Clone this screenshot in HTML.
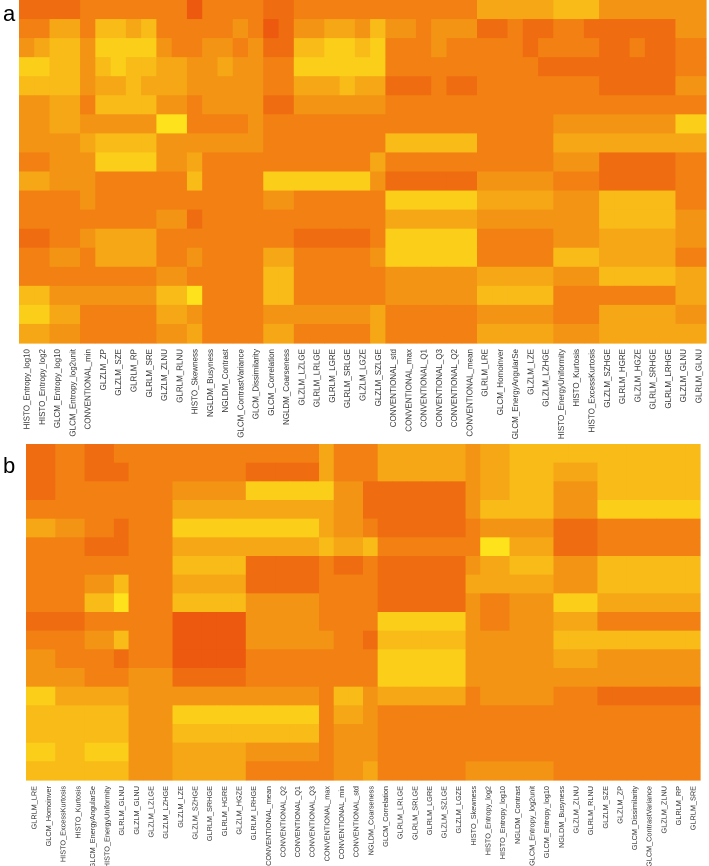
<!DOCTYPE html>
<html><head><meta charset="utf-8"><style>
html,body{margin:0;padding:0;background:#fff;width:709px;height:866px;overflow:hidden}
svg{display:block}
text{font-family:"Liberation Sans",Arial,sans-serif}
</style></head><body>
<svg id="fig" width="709" height="866" viewBox="0 0 709 866">
<text x="3" y="21" font-size="22" fill="#000">a</text>
<text x="3" y="473" font-size="22" fill="#000">b</text>
<g id="ga"></g>
<g id="gb"></g>
<g id="la"></g>
<g id="lb"></g>
</svg>
<script>
const labelsA = ["HISTO_Entropy_log10","HISTO_Entropy_log2","GLCM_Entropy_log10","GLCM_Entropy_log2unit","CONVENTIONAL_min","GLZLM_ZP","GLZLM_SZE","GLRLM_RP","GLRLM_SRE","GLZLM_ZLNU","GLRLM_RLNU","HISTO_Skewness","NGLDM_Busyness","NGLDM_Contrast","GLCM_ContrastVariance","GLCM_Dissimilarity","GLCM_Correlation","NGLDM_Coarseness","GLZLM_LZLGE","GLRLM_LRLGE","GLRLM_LGRE","GLRLM_SRLGE","GLZLM_LGZE","GLZLM_SZLGE","CONVENTIONAL_std","CONVENTIONAL_max","CONVENTIONAL_Q1","CONVENTIONAL_Q3","CONVENTIONAL_Q2","CONVENTIONAL_mean","GLRLM_LRE","GLCM_Homoinver","GLCM_EnergyAngularSe","GLZLM_LZE","GLZLM_LZHGE","HISTO_EnergyUniformity","HISTO_Kurtosis","HISTO_ExcessKurtosis","GLZLM_SZHGE","GLRLM_HGRE","GLZLM_HGZE","GLRLM_SRHGE","GLRLM_LRHGE","GLZLM_GLNU","GLRLM_GLNU"];
const labelsB = ["GLRLM_LRE","GLCM_Homoinver","HISTO_ExcessKurtosis","HISTO_Kurtosis","GLCM_EnergyAngularSe","HISTO_EnergyUniformity","GLRLM_GLNU","GLZLM_GLNU","GLZLM_LZLGE","GLZLM_LZHGE","GLZLM_LZE","GLZLM_SZHGE","GLRLM_SRHGE","GLRLM_HGRE","GLZLM_HGZE","GLRLM_LRHGE","CONVENTIONAL_mean","CONVENTIONAL_Q2","CONVENTIONAL_Q1","CONVENTIONAL_Q3","CONVENTIONAL_max","CONVENTIONAL_min","CONVENTIONAL_std","NGLDM_Coarseness","GLCM_Correlation","GLRLM_LRLGE","GLRLM_SRLGE","GLRLM_LGRE","GLZLM_SZLGE","GLZLM_LGZE","HISTO_Skewness","HISTO_Entropy_log2","HISTO_Entropy_log10","NGLDM_Contrast","GLCM_Entropy_log2unit","GLCM_Entropy_log10","NGLDM_Busyness","GLZLM_ZLNU","GLRLM_RLNU","GLZLM_SZE","GLZLM_ZP","GLCM_Dissimilarity","GLCM_ContrastVariance","GLZLM_ZLNU","GLRLM_RP","GLRLM_SRE"];
const valuesA = [
"22 22 3 3333 33 1 3333 22 33333 3 333333 55555 666 44444 44",
"33 55 3 6656 33 3 3343 12 44554 6 443444 22322 332 22222 44",
"45 66 4 7777 43 3 4434 22 66776 7 333433 33323 333 22322 33",
"77 66 4 6766 55 4 4544 33 77777 7 333333 33332 222 22222 33",
"66 66 4 5565 55 4 4444 33 55565 5 222322 33333 333 22222 44",
"44 55 3 6666 44 3 4444 22 44444 4 333333 33333 333 33333 33",
"44 55 4 4444 88 3 3334 33 33333 3 333333 33333 444 44444 77",
"44 44 5 6666 44 4 4444 33 33333 3 666666 33333 555 55555 55",
"33 44 4 7777 44 5 3333 33 33333 5 333333 33333 444 22222 33",
"55 44 4 3333 33 6 3333 77 77777 4 222222 44444 333 22222 33",
"33 33 4 3333 33 3 3333 44 33333 3 777777 55555 444 66666 33",
"33 33 3 3333 44 2 3333 33 33333 3 555555 44444 444 66666 44",
"22 33 4 5555 33 3 3333 33 22222 3 777777 33333 444 55555 44",
"33 44 3 5555 33 4 3333 55 33333 4 777777 33333 666 55555 33",
"33 33 3 3333 44 3 3333 66 33333 3 444444 55555 444 66666 55",
"66 44 4 4444 66 8 3333 66 33333 3 444444 66666 333 33333 55",
"77 55 3 3333 55 4 3333 44 44444 5 333333 44444 333 55555 44",
"55 44 3 3333 44 5 3333 55 33333 5 333333 55555 444 55555 55"];
const valuesB = [
"22 33 223 333 33333 33333 5 33 3 555555 4 55 666 666 6666666",
"22 33 222 333 33333 22222 5 33 3 555555 4 55 666 555 6666666",
"22 33 333 333 44444 77777 7 44 2 222222 4 55 666 444 6666666",
"33 33 333 333 55555 55555 5 44 2 222222 4 66 666 444 7777777",
"55 44 332 333 77777 77777 5 44 3 222222 3 44 444 222 3333333",
"33 33 222 333 55555 55555 6 55 6 333333 3 88 555 222 3333333",
"33 33 333 333 66666 22222 3 22 3 222222 4 55 666 444 6666666",
"33 33 446 333 55555 22222 3 33 3 222222 5 55 555 444 6666666",
"33 33 668 333 66666 44444 3 33 3 222222 4 33 444 777 5555555",
"22 22 333 333 11111 44444 3 33 3 777777 4 33 444 555 3333333",
"33 33 446 333 11111 44444 4 33 2 666666 4 44 444 666 6666666",
"44 33 332 333 11111 33333 3 33 3 777777 4 44 444 555 4444444",
"44 44 333 444 22222 33333 3 33 3 777777 4 44 444 444 4444444",
"77 55 555 444 44444 44444 3 66 4 555555 3 44 444 333 2222222",
"66 66 666 444 77777 77777 3 55 4 333333 3 33 333 333 3333333",
"66 66 666 444 66666 66666 3 44 4 333333 3 33 333 333 3333333",
"77 66 777 444 55555 44444 3 44 4 333333 3 33 333 333 3333333",
"66 66 666 444 55555 33333 3 44 5 333333 4 44 444 333 3333333"];

const NS = "http://www.w3.org/2000/svg";
function color(v){
  const t = v/9;
  const r = Math.round(235 + 20*t), g = Math.round(70 + 175*t), b = Math.round(12 + 18*t);
  return `rgb(${r},${g},${b})`;
}
function drawPanel(gId, lId, values, labels, x0, x1, y0, y1, labY, pfx, fs){
  const g = document.getElementById(gId), lg = document.getElementById(lId);
  const rows = values.map(s => s.replace(/ /g,''));
  const nC = labels.length, nR = rows.length;
  const cw = (x1-x0)/nC, rh = (y1-y0)/nR;
  const xs = i => x0 + i*cw, ys = j => y0 + j*rh;
  rows.forEach((row,j) => {
    for (let i=0;i<nC;i++){
      const v = parseInt(row[i] || '4',10);
      const r = document.createElementNS(NS,'rect');
      r.setAttribute('x', xs(i).toFixed(2));
      r.setAttribute('y', ys(j).toFixed(2));
      r.setAttribute('width', (cw+0.6).toFixed(2));
      r.setAttribute('height', (rh+0.6).toFixed(2));
      r.setAttribute('fill', color(v));
      
      
      g.appendChild(r);
    }
  });
  labels.forEach((lab,i) => {
    const t = document.createElementNS(NS,'text');
    const cx = xs(i)+cw/2+3;
    t.setAttribute('x', cx.toFixed(2));
    t.setAttribute('y', labY);
    t.setAttribute('transform', `rotate(-90 ${cx.toFixed(2)} ${labY})`);
    t.setAttribute('text-anchor','end');
    t.setAttribute('font-size', fs);
    t.setAttribute('fill','#333');
    t.textContent = lab;
    
    
    lg.appendChild(t);
  });
}
drawPanel('ga','la',valuesA,labelsA,19,706,0,343,349,'a','8');
drawPanel('gb','lb',valuesB,labelsB,26,700,444,780,786,'b','7.3');
</script>
</body></html>
